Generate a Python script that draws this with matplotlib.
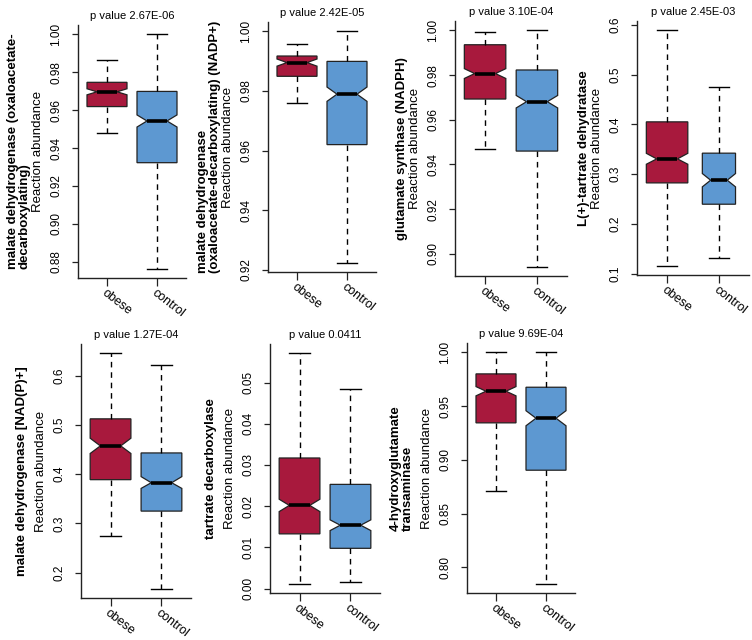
import matplotlib.pyplot as plt
from matplotlib.ticker import MultipleLocator, FormatStrFormatter
from matplotlib.transforms import offset_copy

plt.rcParams['font.family'] = ['Liberation Sans', 'DejaVu Sans']

groups = ['obese', 'control']
reactions = ['malate dehydrogenase (oxaloacetate-\ndecarboxylating)',
             'malate dehydrogenase\n(oxaloacetate-decarboxylating) (NADP+)',
             'glutamate synthase (NADPH)',
             'L(+)-tartrate dehydratase',
             'malate dehydrogenase [NAD(P)+]',
             'tartrate decarboxylase',
             '4-hydroxyglutamate\ntransaminase']
p_values = ['2.67E-06', '2.42E-05', '3.10E-04', '2.45E-03',
            '1.27E-04', '0.0411', '9.69E-04']

# box statistics, one value per panel
obese_whislo = [0.9477, 0.9761, 0.9470, 0.1161, 0.2740, 0.0012, 0.8709]
obese_q1     = [0.9619, 0.9849, 0.9693, 0.2825, 0.3888, 0.0133, 0.9344]
obese_med    = [0.9697, 0.9895, 0.9807, 0.3308, 0.4574, 0.0202, 0.9638]
obese_q3     = [0.9747, 0.9917, 0.9936, 0.4053, 0.5124, 0.0317, 0.9799]
obese_whishi = [0.9864, 0.9957, 0.9993, 0.5893, 0.6454, 0.0571, 1.0000]
obese_cilo   = [0.9681, 0.9883, 0.9785, 0.3200, 0.4420, 0.0187, 0.9595]
obese_cihi   = [0.9713, 0.9907, 0.9829, 0.3420, 0.4730, 0.0217, 0.9681]

control_whislo = [0.8764, 0.9224, 0.8943, 0.1314, 0.1674, 0.0016, 0.7849]
control_q1     = [0.9323, 0.9620, 0.9460, 0.2396, 0.3249, 0.0098, 0.8904]
control_med    = [0.9543, 0.9789, 0.9681, 0.2879, 0.3826, 0.0154, 0.9387]
control_q3     = [0.9699, 0.9899, 0.9823, 0.3423, 0.4431, 0.0253, 0.9675]
control_whishi = [1.0000, 1.0000, 1.0000, 0.4758, 0.6210, 0.0484, 1.0000]
control_cilo   = [0.9511, 0.9765, 0.9653, 0.2745, 0.3710, 0.0141, 0.9317]
control_cihi   = [0.9575, 0.9813, 0.9709, 0.3013, 0.3950, 0.0167, 0.9457]

# y tick step and decimals per panel
tick_step = [0.02, 0.02, 0.02, 0.1, 0.1, 0.01, 0.05]
tick_dec = [2, 2, 2, 1, 1, 2, 2]

colors = ['#A8193D', '#5D98D1']

W, H = 752, 640
fig = plt.figure(figsize=(W / 100, H / 100), dpi=100)

# plot regions in pixels: left, top, right, bottom
panel_px = [(78, 25, 186, 278), (268, 22, 376, 272), (455, 21, 567, 276),
            (637, 21, 749, 275), (81, 344, 191, 598), (270, 344, 380, 593),
            (467, 343, 575, 593)]
box_w = [[0.8, 0.8]] * 3 + [[0.8, 0.64]] + [[0.8, 0.8]] * 3

for i in range(7):
    l, t, r, b = panel_px[i]
    ax = fig.add_axes([l / W, (H - b) / H, (r - l) / W, (b - t) / H])
    stats = [dict(label=groups[0], whislo=obese_whislo[i], q1=obese_q1[i],
                  med=obese_med[i], q3=obese_q3[i], whishi=obese_whishi[i],
                  cilo=obese_cilo[i], cihi=obese_cihi[i], fliers=[]),
             dict(label=groups[1], whislo=control_whislo[i], q1=control_q1[i],
                  med=control_med[i], q3=control_q3[i], whishi=control_whishi[i],
                  cilo=control_cilo[i], cihi=control_cihi[i], fliers=[])]
    bp = ax.bxp(stats, positions=[1, 2], widths=box_w[i], capwidths=[0.4, 0.4],
                shownotches=True, showfliers=False, patch_artist=True,
                boxprops=dict(edgecolor='#222222', linewidth=0.9),
                whiskerprops=dict(color='black', linewidth=1.0, linestyle=(0, (4, 3.5))),
                capprops=dict(color='black', linewidth=1.0),
                medianprops=dict(color='black', linewidth=2.6, solid_capstyle='butt'))
    for patch, c in zip(bp['boxes'], colors):
        patch.set_facecolor(c)

    ax.set_xlim(0.42, 2.58)
    ax.margins(y=0.04)
    ax.spines['top'].set_visible(False)
    ax.spines['right'].set_visible(False)
    for s in ['left', 'bottom']:
        ax.spines[s].set_linewidth(1.0)
        ax.spines[s].set_color('#222222')

    ax.yaxis.set_major_locator(MultipleLocator(tick_step[i]))
    ax.yaxis.set_major_formatter(FormatStrFormatter('%.' + str(tick_dec[i]) + 'f'))
    ax.tick_params(axis='y', length=4.3, width=0.9, pad=7, labelsize=8.5,
                   labelrotation=90, color='#222222')
    for lab in ax.get_yticklabels():
        lab.set_va('center')
        lab.set_family(['Liberation Sans Narrow', 'Liberation Sans', 'DejaVu Sans'])
    ax.set_xticks([1, 2])
    ax.set_xticklabels(groups, rotation=-38, ha='left', va='top',
                       rotation_mode='anchor', fontsize=9)
    ax.tick_params(axis='x', length=5.5, width=0.9, pad=1, color='#222222')

    ax.set_title('p value ' + p_values[i], fontsize=8, pad=4.5)

    tr = offset_copy(ax.transAxes, fig=fig, x=-40, y=0, units='dots')
    ax.text(0, 0.5, 'Reaction abundance', transform=tr, rotation=90,
            ha='center', va='center', fontsize=9.5)
    tr = offset_copy(ax.transAxes, fig=fig, x=-47 if i < 4 else -53, y=0, units='dots')
    ax.text(0, 0.5, reactions[i], transform=tr, rotation=90, ha='right',
            va='center', multialignment='left', fontsize=9.5,
            fontweight='bold', linespacing=1.0)

fig.savefig('out.png', dpi=100)
